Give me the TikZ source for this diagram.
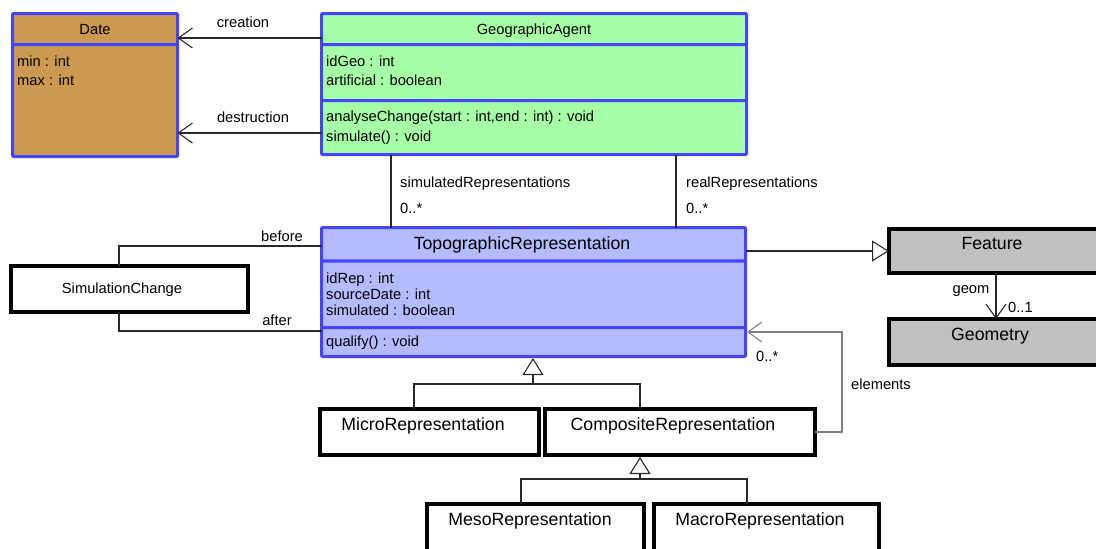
\documentclass[tikz,border=0pt]{standalone}
\usepackage{fontspec}
\setmainfont{Liberation Sans}
\usetikzlibrary{arrows.meta}
\definecolor{umlblue}{RGB}{68,68,255}
\definecolor{datefill}{RGB}{204,153,80}
\definecolor{gafill}{RGB}{166,255,166}
\definecolor{trfill}{RGB}{180,188,255}
\definecolor{grayfill}{RGB}{192,192,192}
\definecolor{linecol}{RGB}{40,40,40}
\newcommand\smallf{\fontsize{14.7}{16}\selectfont}
\newcommand\bigf{\fontsize{17.7}{20}\selectfont}
\tikzset{
  comp/.style={draw=umlblue, line width=3pt, rounded corners=1pt, inner sep=0pt, outer sep=0pt, font=\smallf, text height=1em, text depth=0pt},
  blk/.style={draw=black, line width=4pt, fill=white, inner sep=0pt, outer sep=0pt},
  graybox/.style={blk, fill=grayfill},
  txt/.style={inner sep=0pt, anchor=west, font=\smallf, text=black, text height=0.716em, text depth=0pt, yshift=-2pt},
  ctxt/.style={inner sep=0pt, font=\smallf, text=black, text height=0.716em, text depth=0pt, yshift=-2pt},
  btxt/.style={inner sep=0pt, font=\bigf, text=black, text height=0.716em, text depth=0pt, yshift=-2pt},
  conn/.style={draw=linecol, line width=1.1pt},
  assoc/.style={conn, -{Straight Barb[length=14pt,width=20pt,line width=1.1pt]}},
  gen/.style={conn, -{Triangle[open,length=17pt,width=21pt,line width=1.1pt]}},
}
\begin{document}
\begin{tikzpicture}[x=1pt,y=-1pt]
\useasboundingbox (0,0) rectangle (1096,549);
\clip (0,0) rectangle (1096,549);
% Date
\node[comp, fill=datefill, minimum width=165, minimum height=31] (dateH) at (95,29) {Date};
\node[comp, fill=datefill, minimum width=165, minimum height=112] (dateB) at (95,100.5) {};
\node[txt] (dmin) at (17,61) {min : int};
\node[txt] (dmax) at (17,80) {max : int};
% GeographicAgent
\node[comp, fill=gafill, minimum width=425, minimum height=31] (gaH) at (534,29) {GeographicAgent};
\node[comp, fill=gafill, minimum width=425, minimum height=56] (gaA) at (534,72.5) {};
\node[comp, fill=gafill, minimum width=425, minimum height=54] (gaO) at (534,127.5) {};
\node[txt] (ga1) at (326,61) {idGeo : int};
\node[txt] (ga2) at (326,80) {artificial : boolean};
\node[txt] (ga3) at (326,116) {analyseChange(start : int,end : int) : void};
\node[txt] (ga4) at (326,136) {simulate() : void};
% TopographicRepresentation
\node[comp, fill=trfill, minimum width=424, minimum height=33.5] (trH) at (533.5,244.25) {};
\node[comp, fill=trfill, minimum width=424, minimum height=66.5] (trA) at (533.5,294.25) {};
\node[comp, fill=trfill, minimum width=424, minimum height=29] (trO) at (533.5,342) {};
\node[btxt] (trT) at (522,244) {TopographicRepresentation};
\node[txt] (tr1) at (326,278) {idRep : int};
\node[txt] (tr2) at (326,294) {sourceDate : int};
\node[txt] (tr3) at (326,310) {simulated : boolean};
\node[txt] (tr4) at (326,341) {qualify() : void};
% Feature / Geometry
\node[graybox, minimum width=211, minimum height=44] (feat) at (994.5,251) {};
\node[btxt] (featT) at (992,244) {Feature};
\node[graybox, minimum width=211, minimum height=46] (geom) at (994.5,342) {};
\node[btxt] (geomT) at (990,335) {Geometry};
% SimulationChange
\node[blk, minimum width=237, minimum height=46] (simc) at (129.5,289) {};
\node[ctxt] (simcT) at (122,288) {SimulationChange};
% Subclasses
\node[blk, minimum width=219, minimum height=46] (micro) at (429.5,432) {};
\node[btxt] (microT) at (423,425) {MicroRepresentation};
\node[blk, minimum width=270, minimum height=46] (compo) at (680,432) {};
\node[btxt] (compoT) at (673,425) {CompositeRepresentation};
\node[blk, minimum width=217, minimum height=56] (meso) at (535.5,532) {};
\node[btxt] (mesoT) at (530,520) {MesoRepresentation};
\node[blk, minimum width=225, minimum height=56] (macro) at (766.5,532) {};
\node[btxt] (macroT) at (760,520) {MacroRepresentation};
% connectors
\draw[assoc] ([yshift=-9pt]gaH.west) -- ([yshift=-9pt]gaH.west -| dateH.east);
\node[ctxt] (lcre) at (243,22) {creation};
\draw[assoc] (gaO.west |- 0,133) -- (dateB.east |- 0,133);
\node[ctxt] (ldes) at (253,117) {destruction};
\draw[conn] (gaO.south -| 391,0) -- (trH.north -| 391,0);
\node[txt] (lsim) at (400,182) {simulatedRepresentations};
\node[txt] (lsimm) at (400,208) {0..*};
\draw[conn] (gaO.south -| 676,0) -- (trH.north -| 676,0);
\node[txt] (lreal) at (686,182) {realRepresentations};
\node[txt] (lrealm) at (686,208) {0..*};
\draw[gen] (trH.east |- feat.west) -- (feat.west);
\draw[assoc] ([xshift=1.5pt]feat.south) -- ([xshift=1.5pt]geom.north);
\node[ctxt] (lgeom) at (971,288) {geom};
\node[txt] (lgeomm) at (1008,307) {0..1};
\draw[conn] (simc.north -| 119,0) |- (trH.west |- 0,246);
\node[ctxt] (lbef) at (282,236) {before};
\draw[conn] (simc.south -| 119,0) |- (trO.west |- 0,331);
\node[ctxt] (laft) at (277,320) {after};
\coordinate (gj1) at (533,384);
\draw[conn] (micro.north -| 414,0) |- (gj1) -| (compo.north -| 640,0);
\draw[gen] (gj1) -- ([yshift=-1.5pt]gj1 |- trO.south);
\coordinate (gj2) at (640,479);
\draw[conn] (meso.north -| 521,0) |- (gj2) -| (macro.north -| 747,0);
\draw[gen] (gj2) -- ([yshift=-2pt]gj2 |- compo.south);
\coordinate (el) at (842,332);
\draw[assoc, draw=gray] (compo.east) -| (el) -- ([xshift=1.5pt]el -| trO.east);
\node[txt] (lelm) at (756,356) {0..*};
\node[txt] (lel) at (851,384) {elements};
\end{tikzpicture}
\end{document}
